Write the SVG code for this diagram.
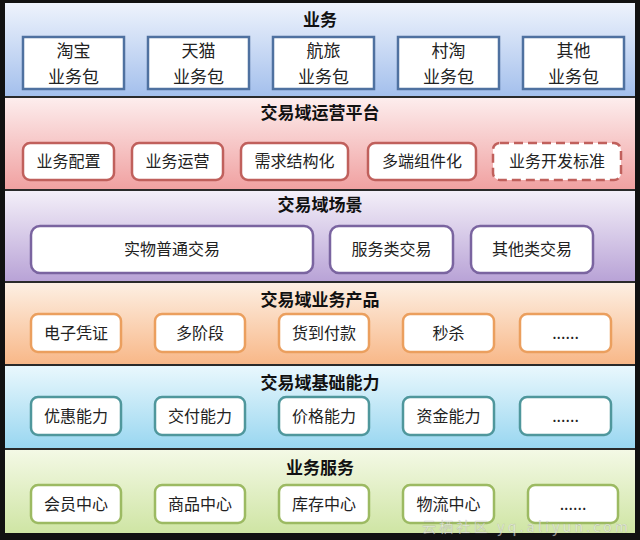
<svg xmlns="http://www.w3.org/2000/svg" width="640" height="540" viewBox="0 0 640 540">
<style>
.t{font-family:"Noto Sans CJK SC","Liberation Sans",sans-serif;font-weight:bold;font-size:17px;fill:#111;text-anchor:middle}
.l{font-family:"Noto Sans CJK SC","Liberation Sans",sans-serif;font-size:16px;fill:#222;text-anchor:middle}
.lb{font-size:17px}
.b1{fill:#fff;stroke:#4f71a0;stroke-width:2.5}
.b2{fill:#fff;stroke:#c0605c;stroke-width:2.5}
.b3{fill:#fff;stroke:#7a64a0;stroke-width:2.5}
.b4{fill:#fff;stroke:#eb9f5e;stroke-width:2.5}
.b5{fill:#fff;stroke:#4f979c;stroke-width:2.5}
.b6{fill:#fff;stroke:#9cba62;stroke-width:2.5}
.sep{stroke:#2a2a2a;stroke-width:2}
</style>
<defs>
<linearGradient id="g1" x1="0" y1="0" x2="0" y2="1"><stop offset="0" stop-color="#eef3fc"/><stop offset="1" stop-color="#a3bfec"/></linearGradient>
<linearGradient id="g2" x1="0" y1="0" x2="0" y2="1"><stop offset="0" stop-color="#fdeeee"/><stop offset="1" stop-color="#f0a0a0"/></linearGradient>
<linearGradient id="g3" x1="0" y1="0" x2="0" y2="1"><stop offset="0" stop-color="#f4f0f9"/><stop offset="1" stop-color="#b8a2d6"/></linearGradient>
<linearGradient id="g4" x1="0" y1="0" x2="0" y2="1"><stop offset="0" stop-color="#fdf0e4"/><stop offset="1" stop-color="#f8b787"/></linearGradient>
<linearGradient id="g5" x1="0" y1="0" x2="0" y2="1"><stop offset="0" stop-color="#eaf8fd"/><stop offset="1" stop-color="#98d6f0"/></linearGradient>
<linearGradient id="g6" x1="0" y1="0" x2="0" y2="1"><stop offset="0" stop-color="#f4f9e6"/><stop offset="1" stop-color="#cfe5a4"/></linearGradient>
</defs>
<rect x="0" y="0" width="640" height="540" fill="#111"/>
<rect x="5" y="3" width="630" height="94" fill="url(#g1)"/>
<rect x="5" y="97" width="630" height="93" fill="url(#g2)"/>
<rect x="5" y="190" width="630" height="92" fill="url(#g3)"/>
<rect x="5" y="282" width="630" height="83" fill="url(#g4)"/>
<rect x="5" y="365" width="630" height="84" fill="url(#g5)"/>
<rect x="5" y="449" width="630" height="84" fill="url(#g6)"/>
<g id="separators">
<line class="sep" x1="5" y1="97" x2="635" y2="97"/>
<line class="sep" x1="5" y1="190" x2="635" y2="190"/>
<line class="sep" x1="5" y1="282" x2="635" y2="282"/>
<line class="sep" x1="5" y1="365" x2="635" y2="365"/>
<line class="sep" x1="5" y1="449" x2="635" y2="449"/>
</g>
<g id="layer-business">
<text class="t" x="320" y="26">业务</text>
<g id="n-taobao"><rect class="b1" x="23" y="37" width="101" height="52"/><text class="l lb"><tspan x="73.5" y="57">淘宝</tspan><tspan x="73.5" y="83">业务包</tspan></text></g>
<g id="n-tmall"><rect class="b1" x="148" y="37" width="101" height="52"/><text class="l lb"><tspan x="198.5" y="57">天猫</tspan><tspan x="198.5" y="83">业务包</tspan></text></g>
<g id="n-travel"><rect class="b1" x="273" y="37" width="101" height="52"/><text class="l lb"><tspan x="323.5" y="57">航旅</tspan><tspan x="323.5" y="83">业务包</tspan></text></g>
<g id="n-village"><rect class="b1" x="398" y="37" width="101" height="52"/><text class="l lb"><tspan x="448.5" y="57">村淘</tspan><tspan x="448.5" y="83">业务包</tspan></text></g>
<g id="n-other-pkg"><rect class="b1" x="523" y="37" width="101" height="52"/><text class="l lb"><tspan x="573.5" y="57">其他</tspan><tspan x="573.5" y="83">业务包</tspan></text></g>
</g>
<g id="layer-ops">
<text class="t" x="320" y="119">交易域运营平台</text>
<g id="n-config"><rect class="b2" x="23" y="143" width="91" height="37" rx="7"/><text class="l" x="68.5" y="167">业务配置</text></g>
<g id="n-operate"><rect class="b2" x="132" y="143" width="91" height="37" rx="7"/><text class="l" x="177.5" y="167">业务运营</text></g>
<g id="n-demand"><rect class="b2" x="241" y="143" width="107" height="37" rx="7"/><text class="l" x="294.5" y="167">需求结构化</text></g>
<g id="n-multi"><rect class="b2" x="368" y="143" width="108" height="37" rx="7"/><text class="l" x="422" y="167">多端组件化</text></g>
<g id="n-standard"><rect class="b2" x="493" y="143" width="128" height="37" rx="7" stroke-dasharray="9 5"/><text class="l" x="557" y="167">业务开发标准</text></g>
</g>
<g id="layer-scene">
<text class="t" x="320" y="211">交易域场景</text>
<g id="n-physical"><rect class="b3" x="31" y="226" width="282" height="47" rx="9"/><text class="l" x="172" y="255">实物普通交易</text></g>
<g id="n-service"><rect class="b3" x="330" y="226" width="123" height="47" rx="9"/><text class="l" x="391.5" y="255">服务类交易</text></g>
<g id="n-othertrade"><rect class="b3" x="471" y="226" width="122" height="47" rx="9"/><text class="l" x="532" y="255">其他类交易</text></g>
</g>
<g id="layer-product">
<text class="t" x="320" y="306">交易域业务产品</text>
<g id="n-voucher"><rect class="b4" x="31" y="314" width="90" height="38" rx="7"/><text class="l" x="76" y="339">电子凭证</text></g>
<g id="n-stage"><rect class="b4" x="155" y="314" width="90" height="38" rx="7"/><text class="l" x="200" y="339">多阶段</text></g>
<g id="n-cod"><rect class="b4" x="279" y="314" width="90" height="38" rx="7"/><text class="l" x="324" y="339">货到付款</text></g>
<g id="n-flash"><rect class="b4" x="403" y="314" width="91" height="38" rx="7"/><text class="l" x="448.5" y="339">秒杀</text></g>
<g id="n-more4"><rect class="b4" x="520" y="314" width="91" height="38" rx="7"/><text class="l" x="565.5" y="339">......</text></g>
</g>
<g id="layer-capability">
<text class="t" x="320" y="389">交易域基础能力</text>
<g id="n-discount"><rect class="b5" x="31" y="397" width="90" height="38" rx="7"/><text class="l" x="76" y="422">优惠能力</text></g>
<g id="n-delivery"><rect class="b5" x="155" y="397" width="90" height="38" rx="7"/><text class="l" x="200" y="422">交付能力</text></g>
<g id="n-price"><rect class="b5" x="279" y="397" width="90" height="38" rx="7"/><text class="l" x="324" y="422">价格能力</text></g>
<g id="n-fund"><rect class="b5" x="403" y="397" width="91" height="38" rx="7"/><text class="l" x="448.5" y="422">资金能力</text></g>
<g id="n-more5"><rect class="b5" x="520" y="397" width="91" height="38" rx="7"/><text class="l" x="565.5" y="422">......</text></g>
</g>
<g id="layer-service">
<text class="t" x="320" y="474">业务服务</text>
<g id="n-member"><rect class="b6" x="31" y="485" width="90" height="38" rx="7"/><text class="l" x="76" y="510">会员中心</text></g>
<g id="n-goods"><rect class="b6" x="155" y="485" width="90" height="38" rx="7"/><text class="l" x="200" y="510">商品中心</text></g>
<g id="n-stock"><rect class="b6" x="279" y="485" width="90" height="38" rx="7"/><text class="l" x="324" y="510">库存中心</text></g>
<g id="n-logistics"><rect class="b6" x="403" y="485" width="91" height="38" rx="7"/><text class="l" x="448.5" y="510">物流中心</text></g>
<g id="n-more6"><rect class="b6" x="528" y="485" width="90" height="38" rx="7"/><text class="l" x="573" y="510">......</text></g>
</g>
<text x="422" y="532" font-family="Noto Sans CJK SC,Liberation Sans,sans-serif" font-size="14" fill="#ffffff" fill-opacity="0.6" stroke="#888" stroke-opacity="0.35" stroke-width="0.6" textLength="206">云栖社区 yq.aliyun.com</text>
</svg>
